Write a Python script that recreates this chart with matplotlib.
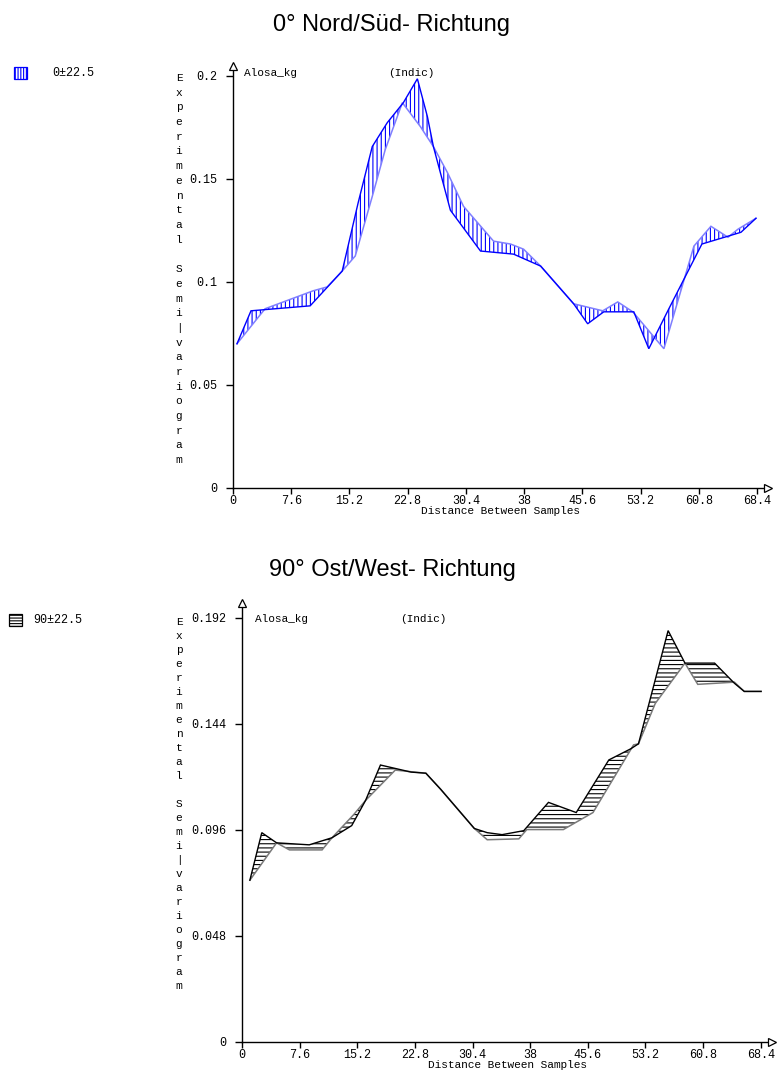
import matplotlib
matplotlib.use("Agg")
import matplotlib.pyplot as plt
from matplotlib.patches import Rectangle

plt.rcParams["hatch.linewidth"] = 0.8

# ---------------- data: directional semivariograms of Alosa_kg ----------------
# 0 deg (N/S) direction, two traced series
ns_lag_a = [0.52, 2.35, 10.07, 14.26, 16.35, 18.18, 20.14, 22.24, 24.07, 25.38, 26.16,
            28.38, 32.31, 36.62, 40.16, 44.47, 46.30, 48.40, 52.32, 54.28, 56.90,
            61.21, 66.31, 68.27]
ns_gamma_a = [0.0700, 0.0860, 0.0884, 0.1053, 0.1386, 0.1657, 0.1773, 0.1870, 0.1986,
              0.1802, 0.1657, 0.1348, 0.1150, 0.1135, 0.1077, 0.0894, 0.0797, 0.0855,
              0.0855, 0.0676, 0.0870, 0.1184, 0.1241, 0.1309]
ns_lag_b = [0.52, 4.19, 10.46, 12.30, 14.26, 15.96, 18.18, 19.88, 22.11, 24.46, 26.16,
            27.99, 30.09, 34.01, 36.23, 37.93, 40.16, 44.47, 48.27, 50.23, 52.19,
            56.25, 60.17, 62.39, 64.62, 65.92, 68.27]
ns_gamma_b = [0.0700, 0.0870, 0.0957, 0.0976, 0.1053, 0.1126, 0.1415, 0.1643, 0.1870,
              0.1754, 0.1657, 0.1531, 0.1367, 0.1198, 0.1184, 0.1159, 0.1077, 0.0894,
              0.0860, 0.0903, 0.0855, 0.0676, 0.1174, 0.1270, 0.1217, 0.1256, 0.1309]

# 90 deg (E/W) direction, two traced series
ew_lag_a = [1.04, 2.61, 4.56, 8.87, 11.87, 14.47, 16.30, 18.26, 22.30, 24.25, 26.21,
            30.64, 32.34, 34.30, 37.16, 40.42, 44.08, 48.38, 51.25, 52.29, 56.20,
            58.42, 62.33, 64.94, 66.24, 68.46]
ew_gamma_a = [0.0732, 0.0947, 0.0901, 0.0892, 0.0924, 0.0979, 0.1093, 0.1253, 0.1221,
              0.1216, 0.1143, 0.0966, 0.0947, 0.0938, 0.0956, 0.1084, 0.1038, 0.1276,
              0.1326, 0.1349, 0.1861, 0.1714, 0.1714, 0.1623, 0.1586, 0.1586]
ew_lag_b = [1.04, 4.56, 6.26, 10.56, 11.87, 14.74, 16.30, 20.21, 24.25, 26.21, 30.64,
            32.34, 36.51, 37.56, 42.38, 46.29, 51.64, 52.29, 54.51, 58.42, 60.11,
            64.94, 66.24, 68.46]
ew_gamma_b = [0.0732, 0.0901, 0.0869, 0.0869, 0.0924, 0.1029, 0.1093, 0.1230, 0.1216,
              0.1143, 0.0966, 0.0915, 0.0919, 0.0961, 0.0961, 0.1038, 0.1344, 0.1349,
              0.1532, 0.1714, 0.1618, 0.1628, 0.1586, 0.1586]

x_ticks = [0, 7.6, 15.2, 22.8, 30.4, 38, 45.6, 53.2, 60.8, 68.4]
x_tick_labels = ["0", "7.6", "15.2", "22.8", "30.4", "38", "45.6", "53.2", "60.8", "68.4"]
ns_y_ticks = [0, 0.05, 0.1, 0.15, 0.2]
ns_y_labels = ["0", "0.05", "0.1", "0.15", "0.2"]
ew_y_ticks = [0, 0.048, 0.096, 0.144, 0.192]
ew_y_labels = ["0", "0.048", "0.096", "0.144", "0.192"]

titles = ["0° Nord/Süd- Richtung", "90° Ost/West- Richtung"]
legend_labels = ["0±22.5", "90±22.5"]
variable = "Alosa_kg"
tag = "(Indic)"
x_title = "Distance Between Samples"
y_title = "Experimental Semi|variogram"

W, H = 777, 1073
fig = plt.figure(figsize=(W / 100, H / 100), dpi=100)

MONO = "Liberation Mono"
SANS = "Liberation Sans"


def fx(px):
    return px / W


def fy(py):
    return 1 - py / H


def panel(rect, xmax, ymax, lag_a, g_a, lag_b, g_b, yt, yl, col_a, col_b, hcol, hatch):
    ax = fig.add_axes(rect)
    ax.set_xlim(0, xmax)
    ax.set_ylim(0, ymax)
    # hatched ribbon between the two series
    xs = list(lag_a) + list(lag_b)[::-1]
    ys = list(g_a) + list(g_b)[::-1]
    ax.fill(xs, ys, facecolor="none", edgecolor=hcol, hatch=hatch, linewidth=0)
    ax.plot(lag_b, g_b, color=col_b, lw=1.1, solid_joinstyle="miter")
    ax.plot(lag_a, g_a, color=col_a, lw=1.0, solid_joinstyle="miter")
    for s in ("top", "right"):
        ax.spines[s].set_visible(False)
    for s in ("left", "bottom"):
        ax.spines[s].set_linewidth(1.0)
        ax.spines[s].set_color("black")
    ax.set_xticks(x_ticks)
    ax.set_xticklabels(x_tick_labels, fontfamily=MONO, fontsize=8.5)
    ax.set_yticks(yt)
    ax.set_yticklabels(yl, fontfamily=MONO, fontsize=8.5)
    ax.tick_params(axis="y", direction="out", length=5, width=1, pad=6)
    ax.tick_params(axis="x", direction="out", length=4, width=1, pad=1)
    ax.set_xlabel(x_title, fontfamily=MONO, fontsize=8, labelpad=-1)
    # axis arrow heads
    ax.plot([0], [ymax], marker="^", ms=6, mfc="white", mec="black", mew=0.9,
            clip_on=False, zorder=5)
    ax.plot([xmax], [0], marker=">", ms=6, mfc="white", mec="black", mew=0.9,
            clip_on=False, zorder=5)
    return ax


# ---------------- top panel: 0 deg ----------------
ax1 = panel([fx(233), fy(488), fx(535), (488 - 66) / H], 69.84, 0.2048,
            ns_lag_a, ns_gamma_a, ns_lag_b, ns_gamma_b, ns_y_ticks, ns_y_labels,
            "#0000ff", "#7f7fff", "#0000ff", "||||")

# ---------------- bottom panel: 90 deg ----------------
ax2 = panel([fx(242), fy(1042), fx(530), (1042 - 603) / H], 69.9, 0.1986,
            ew_lag_a, ew_gamma_a, ew_lag_b, ew_gamma_b, ew_y_ticks, ew_y_labels,
            "#000000", "#7a7a7a", "#000000", "----")

# titles
fig.text(fx(392), fy(25), titles[0], ha="center", va="center", fontsize=17, family=SANS)
fig.text(fx(392), fy(570), titles[1], ha="center", va="center", fontsize=17, family=SANS)

# panel annotations
for ypx, xv, xt in ((73, 244, 388), (619, 255, 400)):
    fig.text(fx(xv), fy(ypx), variable, ha="left", va="center", fontsize=8, family=MONO)
    fig.text(fx(xt), fy(ypx), tag, ha="left", va="center", fontsize=8, family=MONO)

# stacked vertical y titles
for x0, y0, step in ((179, 78, 14.7), (179, 622, 14.0)):
    for i, ch in enumerate(y_title):
        if ch != " ":
            fig.text(fx(x0), fy(y0 + i * step), ch, ha="center", va="center",
                     fontsize=8, family=MONO)

# legend swatches
fig.add_artist(Rectangle((fx(14), fy(79)), fx(13), 12 / H, transform=fig.transFigure,
                         facecolor="white", edgecolor="#0000ff", hatch="||||||", lw=0.9))
fig.text(fx(52), fy(73), legend_labels[0], ha="left", va="center", fontsize=8.5, family=MONO)
fig.add_artist(Rectangle((fx(9), fy(626)), fx(13), 12 / H, transform=fig.transFigure,
                         facecolor="white", edgecolor="black", hatch="------", lw=0.9))
fig.text(fx(33), fy(620), legend_labels[1], ha="left", va="center", fontsize=8.5, family=MONO)

fig.savefig("out.png", dpi=100, facecolor="white")
